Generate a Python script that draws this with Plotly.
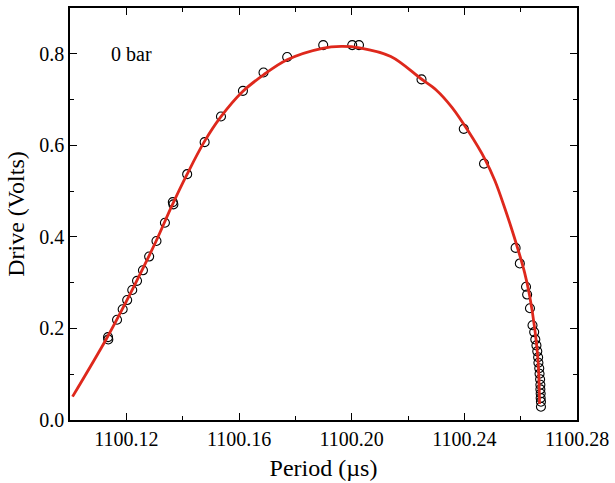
import plotly.graph_objects as go

# Measured points (open circles)
period_pts = [1100.1135, 1100.1136, 1100.1167, 1100.1187, 1100.1203, 1100.1221, 1100.1238,
              1100.1259, 1100.1281, 1100.1307, 1100.1337, 1100.1365, 1100.1367, 1100.1416,
              1100.1478, 1100.1536, 1100.1614, 1100.1687, 1100.1771, 1100.1899, 1100.2002,
              1100.2026, 1100.2248, 1100.2398, 1100.2470, 1100.2582, 1100.2597, 1100.2619,
              1100.2623, 1100.2633, 1100.2642, 1100.2648, 1100.2652, 1100.2656, 1100.2659,
              1100.2662, 1100.2663, 1100.2666, 1100.2667, 1100.2669, 1100.2670, 1100.2670,
              1100.2671, 1100.2671, 1100.2672, 1100.2672]
drive_pts = [0.181, 0.176, 0.219, 0.242, 0.262, 0.284, 0.304,
             0.327, 0.357, 0.391, 0.431, 0.476, 0.471, 0.537,
             0.607, 0.663, 0.719, 0.759, 0.793, 0.819, 0.819,
             0.819, 0.744, 0.636, 0.560, 0.376, 0.342, 0.291,
             0.274, 0.244, 0.207, 0.192, 0.176, 0.163, 0.150,
             0.137, 0.125, 0.113, 0.101, 0.089, 0.077, 0.067,
             0.058, 0.048, 0.040, 0.029]

# Fitted curve (red line)
curve_period = [1100.1009, 1100.1129, 1100.1200, 1100.1258, 1100.1305, 1100.1364, 1100.1415,
                1100.1476, 1100.1534, 1100.1614, 1100.1687, 1100.1771, 1100.1896, 1100.1963,
                1100.2028, 1100.2139, 1100.2245, 1100.2300, 1100.2356, 1100.2415, 1100.2473,
                1100.2509, 1100.2544, 1100.2579, 1100.2614, 1100.2632, 1100.2650, 1100.2662,
                1100.2667]
curve_drive = [0.051, 0.177, 0.259, 0.330, 0.390, 0.471, 0.536,
               0.607, 0.661, 0.718, 0.754, 0.787, 0.812, 0.816,
               0.813, 0.794, 0.746, 0.721, 0.683, 0.630, 0.570,
               0.522, 0.462, 0.396, 0.322, 0.271, 0.199, 0.127,
               0.035]

x_tickvals = [1100.12, 1100.16, 1100.20, 1100.24, 1100.28]
x_ticktext = ["1100.12", "1100.16", "1100.20", "1100.24", "1100.28"]
y_tickvals = [0.0, 0.2, 0.4, 0.6, 0.8]
y_ticktext = ["0.0", "0.2", "0.4", "0.6", "0.8"]
label_text = "0 bar"

FONT = "Liberation Serif, Times New Roman, Times, serif"

fig = go.Figure()
fig.add_trace(go.Scatter(
    x=period_pts, y=drive_pts, mode="markers",
    marker=dict(symbol="circle-open", size=9, color="black", line=dict(width=1.1, color="black")),
    showlegend=False,
))
fig.add_trace(go.Scatter(
    x=curve_period, y=curve_drive, mode="lines",
    line=dict(color="rgb(222,40,28)", width=2.8, shape="spline", smoothing=1.0),
    showlegend=False,
))

fig.add_annotation(x=1100.1140, y=0.8, text=label_text, showarrow=False,
                   xanchor="left", yanchor="middle", font=dict(family=FONT, size=20, color="black"))

axis_common = dict(
    showline=True, linecolor="black", linewidth=1.5, mirror="ticks",
    ticks="inside", ticklen=7, tickwidth=1.2, tickcolor="black",
    showgrid=False, zeroline=False,
    tickfont=dict(family=FONT, size=20, color="black"),
)

fig.update_xaxes(
    range=[1100.0999999, 1100.2800001],
    tickmode="array", tickvals=x_tickvals, ticktext=x_ticktext,
    minor=dict(ticks="inside", ticklen=4, tickwidth=1.2, tickcolor="black", dtick=0.02, tick0=1100.10),
    title=dict(text="Period (µs)", font=dict(family=FONT, size=24, color="black"), standoff=10),
    **axis_common,
)
fig.update_yaxes(
    range=[0, 0.9],
    tickmode="array", tickvals=y_tickvals, ticktext=y_ticktext,
    minor=dict(ticks="inside", ticklen=4, tickwidth=1.2, tickcolor="black", dtick=0.1, tick0=0),
    title=dict(text="Drive (Volts)", font=dict(family=FONT, size=24, color="black"), standoff=8),
    **axis_common,
)

fig.update_layout(
    width=615, height=483,
    margin=dict(l=70, r=34, t=6, b=61),
    plot_bgcolor="white", paper_bgcolor="white",
)

fig.write_html("out.html", config={"displayModeBar": False},
               post_script="document.body.style.margin='0';document.body.style.overflow='hidden';")
